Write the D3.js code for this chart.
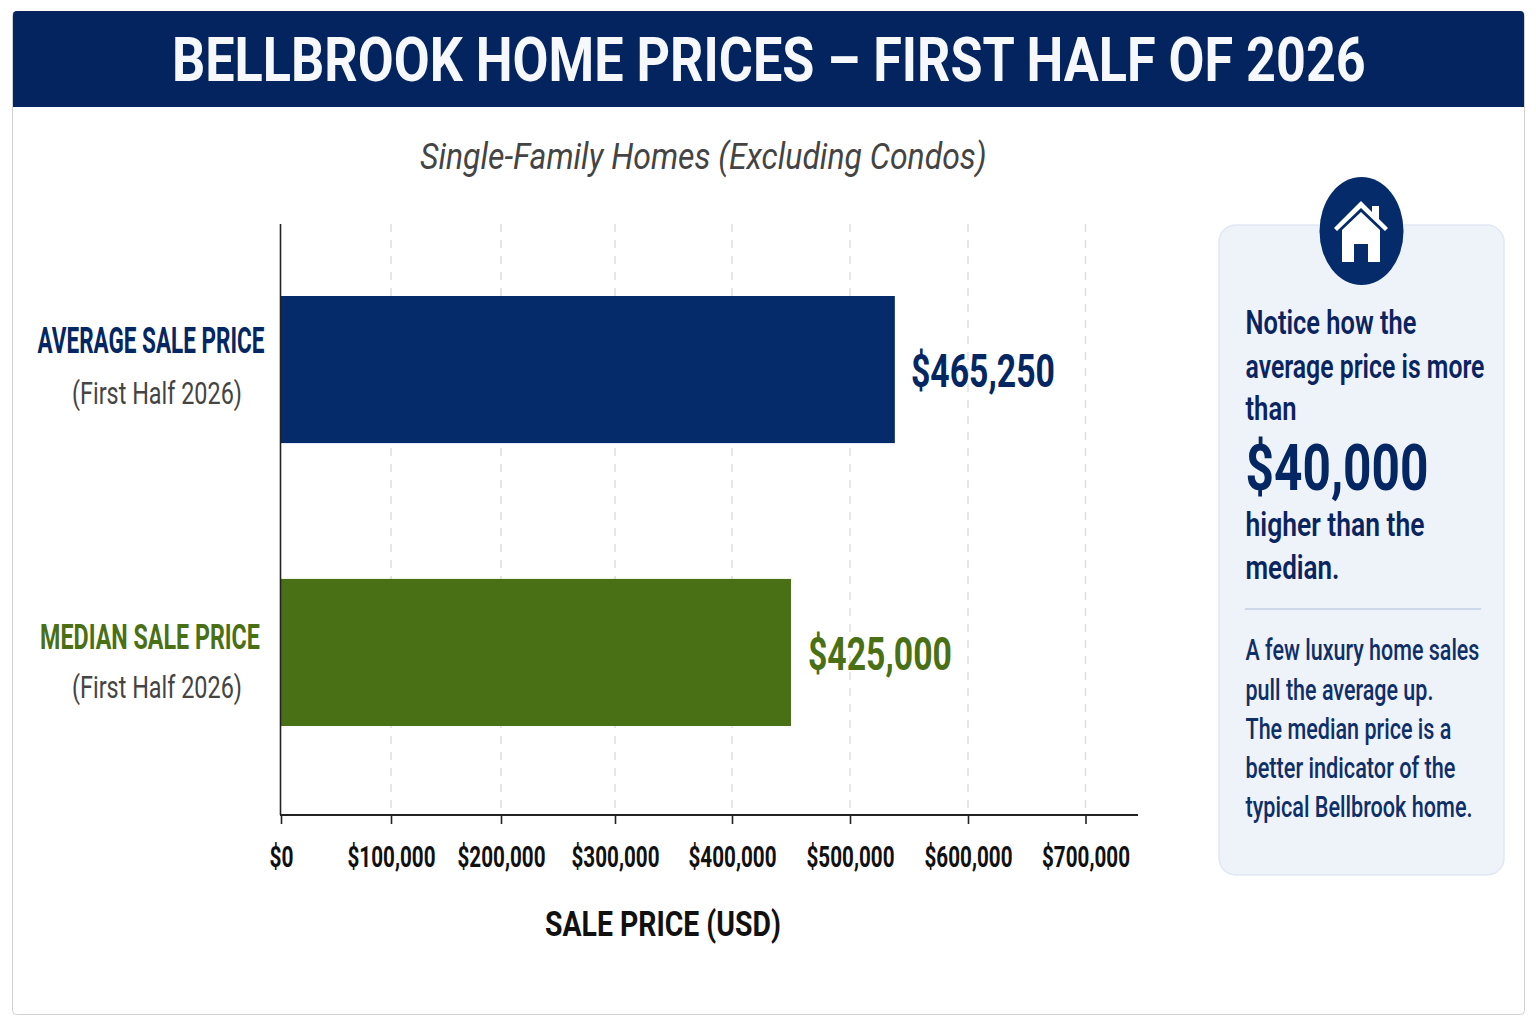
<!DOCTYPE html>
<html><head><meta charset="utf-8">
<script src="https://cdn.jsdelivr.net/npm/d3@7"></script>
<style>html,body{margin:0;padding:0;background:#fff}svg{display:block}text{font-family:Roboto,sans-serif}</style>
</head><body><div id="c"></div>
<script>
const categories = ["AVERAGE SALE PRICE", "MEDIAN SALE PRICE"];
const categoryNotes = ["(First Half 2026)", "(First Half 2026)"];
const barLengths = [538000, 450000];
const valueLabels = ["$465,250", "$425,000"];
const tickValues = [0, 100000, 200000, 300000, 400000, 500000, 600000, 700000];
const tickLabels = ["$0", "$100,000", "$200,000", "$300,000", "$400,000", "$500,000", "$600,000", "$700,000"];
const noticeLines = ["Notice how the", "average price is more", "than"];
const afterLines = ["higher than the", "median."];
const bodyLines = ["A few luxury home sales", "pull the average up.", "The median price is a", "better indicator of the", "typical Bellbrook home."];

const NAVY = "#042763", BAR = "#052b6b", GREEN = "#4a7015";
const svg = d3.select("#c").append("svg").attr("width", 1536).attr("height", 1024);

function fit(t, len, x, y) {
  const k = len / t.node().getComputedTextLength();
  t.attr("transform", `translate(${x},${y}) scale(${k},1)`);
}
function T(x, y, s, size, weight, fill, len, anchor, style) {
  const t = svg.append("text").text(s)
    .attr("font-size", size).attr("font-weight", weight).attr("fill", fill)
    .attr("text-anchor", anchor || "start");
  if (style) t.attr("font-style", style);
  fit(t, len, x, y);
  return t;
}

svg.append("rect").attr("x", 12.5).attr("y", 11.5).attr("width", 1512).attr("height", 1003)
  .attr("rx", 4).attr("fill", "#fff").attr("stroke", "#d2d2d2");
svg.append("path").attr("d", "M13,107V15a4,4 0 0 1 4,-4H1520a4,4 0 0 1 4,4V107Z").attr("fill", "#03245f");
T(172, 81, "BELLBROOK HOME PRICES – FIRST HALF OF 2026", 62, 700, "#f7f8fb", 1194);
T(420, 169, "Single-Family Homes (Excluding Condos)", 36, 400, "#444", 567, "start", "italic");

// scales: the reference's axis is not evenly spaced
const x = d3.scaleLinear().domain(tickValues).range([281, 391, 501, 615, 732, 850, 968, 1085.5]);
const y = d3.scaleBand().domain(categories).range([296, 726]).paddingInner(0.48);
const axisY = 815, axisTop = 224;

svg.append("g").selectAll("line").data(tickValues.slice(1)).join("line")
  .attr("x1", d => x(d)).attr("x2", d => x(d)).attr("y1", axisTop).attr("y2", axisY)
  .attr("stroke", "#dedede").attr("stroke-width", 1.5).attr("stroke-dasharray", "8 8");

svg.append("g").selectAll("rect").data(categories).join("rect")
  .attr("x", x(0)).attr("y", d => y(d)).attr("height", y.bandwidth())
  .attr("width", (d, i) => x(barLengths[i]) - x(0))
  .attr("fill", (d, i) => i ? GREEN : BAR);

const axis = d3.axisBottom(x).tickValues(tickValues).tickFormat((d, i) => tickLabels[i]).tickSize(9).tickPadding(22);
const ag = svg.append("g").attr("transform", `translate(0,${axisY})`).call(axis);
ag.select(".domain").attr("d", "M280,0H1138").attr("stroke", "#222").attr("stroke-width", 2);
ag.selectAll(".tick line").attr("stroke", "#222").attr("stroke-width", 1.6);
ag.selectAll(".tick text").attr("font-family", "Roboto,sans-serif").attr("font-size", 29).attr("font-weight", 700).attr("fill", "#111")
  .each(function (d, i) {
    const k = (i ? 88 : 24) / this.getComputedTextLength();
    d3.select(this).attr("transform", `scale(${k},1)`);
  });
svg.append("line").attr("x1", 280.5).attr("x2", 280.5).attr("y1", axisTop).attr("y2", axisY).attr("stroke", "#222").attr("stroke-width", 1.6);

T(545, 936, "SALE PRICE (USD)", 36, 700, "#111", 236);

// category labels and value labels
const catMid = [151, 150];
const catW = [227, 220];
const catBase = [353, 649];
const noteBase = [404, 698];
const valX = [911, 808];
const valBase = [387, 670];
categories.forEach((c, i) => {
  const col = i ? GREEN : NAVY;
  T(catMid[i], catBase[i], c, 36, 700, col, catW[i], "middle");
  T(157, noteBase[i], categoryNotes[i], 31, 400, "#444", 170, "middle");
  T(valX[i], valBase[i], valueLabels[i], 47, 700, col, 144);
});

// side panel
svg.append("rect").attr("x", 1219).attr("y", 225).attr("width", 285).attr("height", 650).attr("rx", 17)
  .attr("fill", "#eef2f9").attr("stroke", "#e1e8f3").attr("stroke-width", 1.5);
svg.append("ellipse").attr("cx", 1361.5).attr("cy", 231).attr("rx", 42).attr("ry", 54).attr("fill", BAR);
svg.append("path").attr("fill", "#fff").attr("transform", "translate(1361,231)")
  .attr("d", "M0,-30L11,-19V-25H18V-12L27,-3L24,0L0,-23L-24,0L-27,-3Z M0,-19L19,-1V31H7V13H-7V31H-19V-1Z");

const noticeW = [171, 239, 51];
const noticeBase = [334, 378, 420];
noticeLines.forEach((s, i) => T(1245.5, noticeBase[i], s, 33, 600, "#0a2460", noticeW[i]));
T(1245.5, 490, "$40,000", 64, 700, NAVY, 183);
const afterW = [179, 94];
const afterBase = [536, 579];
afterLines.forEach((s, i) => T(1245.5, afterBase[i], s, 33, 600, "#0a2460", afterW[i]));
svg.append("line").attr("x1", 1245).attr("x2", 1481).attr("y1", 609).attr("y2", 609).attr("stroke", "#a9bbd6").attr("stroke-width", 1.2);
const bodyW = [234, 188, 206, 210, 227];
const bodyBase = [660, 700, 739, 778, 817];
bodyLines.forEach((s, i) => T(1245.5, bodyBase[i], s, 29, 500, "#0f2f68", bodyW[i]));
</script></body></html>
